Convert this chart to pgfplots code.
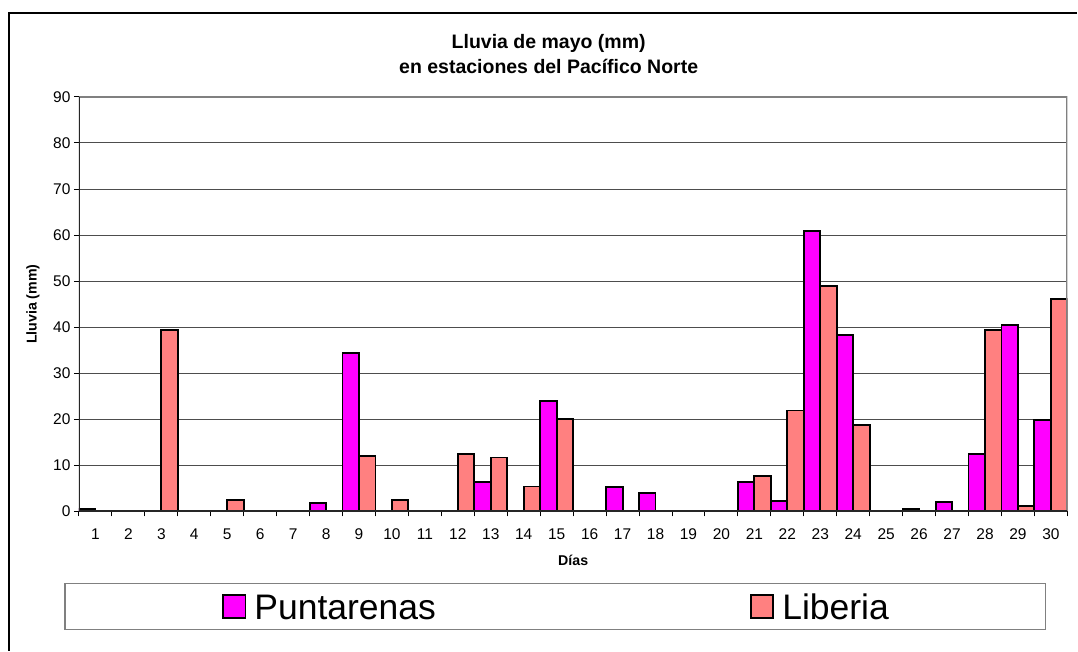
\documentclass[border=0pt]{standalone}
\usepackage{pgfplots}
\pgfplotsset{compat=1.18}
\usepackage{pgfplotstable}
\usepackage{fontspec}
\setmainfont{Liberation Sans}
\definecolor{punta}{HTML}{FF00FF}
\definecolor{lib}{HTML}{FF8080}
\definecolor{gridc}{HTML}{4D4D4D}
\definecolor{framec}{HTML}{808080}

% day, Puntarenas, Liberia (mm)
\pgfplotstableread{
day punta lib
1  0.6  0
2  0    0
3  0.1  39.3
4  0    0
5  0    2.5
6  0.1  0
7  0    0
8  1.9  0
9  34.3 12.0
10 0    2.5
11 0    0
12 0    12.4
13 6.4  11.7
14 0    5.4
15 23.9 20.1
16 0    0.2
17 5.2  0
18 3.9  0
19 0    0
20 0.1  0
21 6.4  7.7
22 2.2  21.9
23 60.9 49.0
24 38.4 18.7
25 0    0.1
26 0.6  0
27 2.1  0.1
28 12.5 39.4
29 40.5 1.2
30 19.8 46.2
}\rain

\begin{document}
\begin{tikzpicture}[x=1bp,y=1bp]
\path (0,0) rectangle (1078,651);
\draw[black, line width=1.3bp] (9,0) -- (9,638) -- (1078,638);
\node[anchor=base, font=\bfseries\fontsize{19.5bp}{24bp}\selectfont] at (549,602) {Lluvia de mayo (mm)};
\node[anchor=base, font=\bfseries\fontsize{19.5bp}{24bp}\selectfont] at (549,577) {en estaciones del Pacífico Norte};
\begin{axis}[
  at={(79bp,139.3bp)}, anchor=south west, scale only axis,
  width=989bp, height=414.7bp,
  xmin=0.5, xmax=30.5, ymin=0, ymax=90,
  ybar, bar width=16.48bp,
  xtick={1,...,30},
  minor xtick={0.5,1.5,...,30.5},
  ytick={0,10,...,90},
  tick align=outside,
  xtick pos=bottom, ytick pos=left,
  major tick length=5bp, minor tick length=5bp,
  major x tick style={draw=none},
  tick style={black, line width=1bp},
  ymajorgrids,
  grid style={gridc, line width=1bp},
  axis line style={draw=none},
  /pgf/number format/assume math mode=true,
  tick label style={font=\fontsize{15.5bp}{17bp}\selectfont},
  xticklabel style={yshift=-9bp},
  xlabel={Días},
  ylabel={Lluvia (mm)},
  label style={font=\bfseries\fontsize{14.2bp}{16bp}\selectfont},
  xlabel style={at={(axis description cs:0.5,0)}, anchor=center, yshift=-49.3bp},
  ylabel style={at={(axis description cs:-0.0465,0.5)}, anchor=center},
  legend columns=2,
  legend style={
    at={(0.482,-0.2298)}, anchor=center,
    draw=framec, line width=1.3bp,
    inner xsep=157bp, inner ysep=7bp,
    font=\fontsize{35.5bp}{40bp}\selectfont,
    nodes={inner xsep=0bp, inner ysep=3bp, text height=26bp, text depth=0bp},
    /tikz/every even column/.append style={column sep=314bp},
  },
  sqlegend/.style={legend image code/.code={\draw[##1, line width=1.8bp] (0bp,-11.35bp) rectangle (22.7bp,11.35bp); \path (30.7bp,0bp);}},
]
\addplot[draw=black, fill=punta, line width=1.9bp, bar shift=-8.24bp, sqlegend] table[x=day, y=punta] {\rain};
\addlegendentry{Puntarenas}
\addplot[draw=black, fill=lib, line width=1.9bp, bar shift=8.24bp, sqlegend] table[x=day, y=lib] {\rain};
\addlegendentry{Liberia}
\draw[framec, line width=2bp] (rel axis cs:0,1) -- (rel axis cs:1,1) -- (rel axis cs:1,0);
\draw[black!85, line width=1.8bp] (rel axis cs:0,1) -- (rel axis cs:0,0) -- (rel axis cs:1,0);
\end{axis}
\end{tikzpicture}
\end{document}
